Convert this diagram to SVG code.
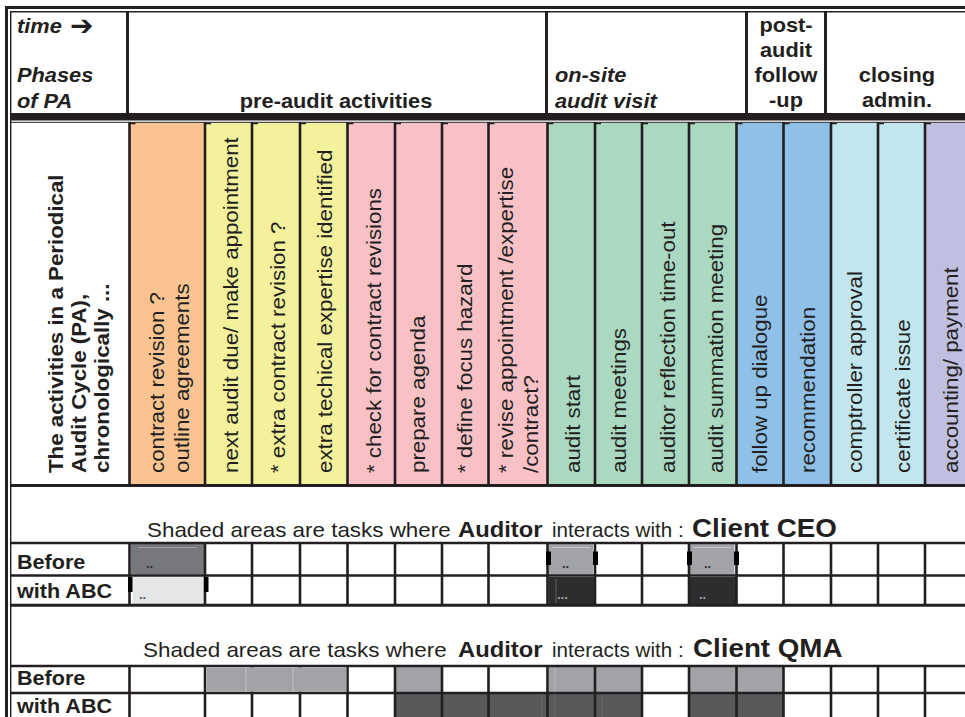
<svg xmlns="http://www.w3.org/2000/svg" width="965" height="717" viewBox="0 0 965 717">
  <style>
    .t { font-family: "Liberation Sans", Arial, Helvetica, sans-serif; fill: #231f20; }
    .i { font-style: italic; }
    .h { font-size: 20px; font-weight: bold; }
    .c { font-size: 20px; }
    .rl { font-size: 20px; font-weight: bold; }
    .s { font-size: 20px; }
    .sb { font-size: 22px; font-weight: bold; }
    .cb { font-size: 25px; font-weight: bold; }
    .arrow { font-family: "DejaVu Sans", sans-serif; font-size: 28px; font-weight: bold; fill: #231f20; }
    .dot { font-family: "Liberation Sans", Arial, sans-serif; font-size: 13px; font-weight: bold; }
    .ln { stroke: #231f20; fill: none; }
    .orange { fill: #f9c492; }
    .yellow { fill: #f4f19c; }
    .pink { fill: #f8c1c5; }
    .green { fill: #aad8c0; }
    .blue { fill: #8fc0e7; }
    .cyan { fill: #c2e6ee; }
    .lav { fill: #c0bfe0; }
    .g1 { fill: #a2a3a6; }
    .g2 { fill: #58595b; }
    .g3 { fill: #2d2d2f; }
    .g4 { fill: #77787b; }
    .g5 { fill: #e5e6e7; }
  </style>

  <rect x="0" y="0" width="965" height="717" fill="#ffffff"/>

  <!-- activity column fills -->
  <g id="column-fills">
    <rect class="orange" x="129.5" y="123" width="75.5" height="361"/>
    <rect class="yellow" x="205" y="123" width="47" height="361"/>
    <rect class="yellow" x="252" y="123" width="48" height="361"/>
    <rect class="yellow" x="300" y="123" width="47.5" height="361"/>
    <rect class="pink" x="347.5" y="123" width="47.5" height="361"/>
    <rect class="pink" x="395" y="123" width="47" height="361"/>
    <rect class="pink" x="442" y="123" width="46.5" height="361"/>
    <rect class="pink" x="488.5" y="123" width="59" height="361"/>
    <rect class="green" x="547.5" y="123" width="47.5" height="361"/>
    <rect class="green" x="595" y="123" width="47" height="361"/>
    <rect class="green" x="642" y="123" width="47" height="361"/>
    <rect class="green" x="689" y="123" width="47.5" height="361"/>
    <rect class="blue" x="736.5" y="123" width="47" height="361"/>
    <rect class="blue" x="783.5" y="123" width="47.5" height="361"/>
    <rect class="cyan" x="831" y="123" width="47" height="361"/>
    <rect class="cyan" x="878" y="123" width="47" height="361"/>
    <rect class="lav" x="925" y="123" width="40" height="361"/>
  </g>

  <!-- shaded interaction cells (under the grid) -->
  <g id="shading-under">
    <rect class="g4" x="131" y="544" width="73" height="30.5"/>
    <line x1="138" y1="547.5" x2="197" y2="547.5" stroke="#9c9da0" stroke-width="1"/>
    <rect class="g5" x="132.5" y="577" width="71.5" height="27"/>
    <rect class="g1" x="548.5" y="544" width="44.5" height="30.5"/>
    <line x1="552" y1="547.5" x2="590" y2="547.5" stroke="#c4c5c7" stroke-width="1"/>
    <rect class="g3" x="548.5" y="577" width="46.5" height="27"/>
    <line x1="556" y1="579" x2="556" y2="603" stroke="#6d6e70" stroke-width="0.8"/>
    <rect class="g1" x="689.5" y="544" width="45" height="30.5"/>
    <line x1="693" y1="547.5" x2="731" y2="547.5" stroke="#c4c5c7" stroke-width="1"/>
    <rect class="g3" x="689.5" y="577" width="47" height="27"/>

    <rect class="g1" x="396" y="667" width="45" height="25"/>
    <rect class="g1" x="549" y="667" width="93" height="25"/>
    <line x1="555" y1="667" x2="555" y2="692" stroke="#b9babc" stroke-width="0.8"/>
    <rect class="g1" x="690" y="667" width="93" height="25"/>
    <rect class="g2" x="396" y="694" width="246" height="23"/>
    <line x1="542" y1="694" x2="542" y2="717" stroke="#6e6f71" stroke-width="0.8"/>
    <line x1="555" y1="694" x2="555" y2="717" stroke="#6e6f71" stroke-width="0.8"/>
    <line x1="602" y1="694" x2="602" y2="717" stroke="#6e6f71" stroke-width="0.8"/>
    <rect class="g2" x="690" y="694" width="93" height="23"/>
  </g>

  <!-- grid, frame and rules -->
  <g id="connectors">
    <!-- outer double frame -->
    <line class="ln" x1="5" y1="7.5" x2="965" y2="7.5" stroke-width="3"/>
    <line class="ln" x1="10" y1="11.7" x2="965" y2="11.7" stroke-width="1.4"/>
    <line class="ln" x1="6.5" y1="6" x2="6.5" y2="717" stroke-width="3"/>
    <line class="ln" x1="10.7" y1="11" x2="10.7" y2="717" stroke-width="1.4"/>

    <!-- phase header dividers -->
    <line class="ln" x1="127.5" y1="11" x2="127.5" y2="114" stroke-width="3"/>
    <line class="ln" x1="546.5" y1="11" x2="546.5" y2="114" stroke-width="3"/>
    <line class="ln" x1="746.5" y1="11" x2="746.5" y2="114" stroke-width="3"/>
    <line class="ln" x1="825.5" y1="11" x2="825.5" y2="114" stroke-width="3"/>
    <rect x="10" y="113" width="955" height="7.5" fill="#231f20"/>
    <line class="ln" x1="10" y1="122.3" x2="965" y2="122.3" stroke-width="1"/>

    <!-- activity column dividers -->
    <path class="ln" stroke-width="2.6" d="M129.5 122V485 M205 122V485 M252 122V485 M300 122V485 M347.5 122V485 M395 122V485 M442 122V485 M488.5 122V485 M547.5 122V485 M595 122V485 M642 122V485 M689 122V485 M736.5 122V485 M783.5 122V485 M831 122V485 M878 122V485 M925 122V485"/>
    <path class="ln" stroke-width="1.5" d="M129.5 123.5h6 M205 123.5h6 M252 123.5h6 M300 123.5h6 M347.5 123.5h6 M395 123.5h6 M442 123.5h6 M488.5 123.5h6 M547.5 123.5h6 M595 123.5h6 M642 123.5h6 M689 123.5h6 M736.5 123.5h6 M783.5 123.5h6 M831 123.5h6 M878 123.5h6 M925 123.5h6"/>
    <line class="ln" x1="10" y1="485.5" x2="965" y2="485.5" stroke-width="3"/>

    <!-- Client CEO rows -->
    <line class="ln" x1="10" y1="543" x2="965" y2="543" stroke-width="2.5"/>
    <line class="ln" x1="10" y1="575.5" x2="965" y2="575.5" stroke-width="2.5"/>
    <line class="ln" x1="10" y1="605.3" x2="965" y2="605.3" stroke-width="3"/>
    <path class="ln" stroke-width="2.6" d="M129.5 543V605 M205 543V605 M252 543V605 M300 543V605 M347.5 543V605 M395 543V605 M442 543V605 M488.5 543V605 M547.5 543V605 M595 543V605 M642 543V605 M689 543V605 M736.5 543V605 M783.5 543V605 M831 543V605 M878 543V605 M925 543V605"/>

    <!-- Client QMA rows -->
    <line class="ln" x1="10" y1="666" x2="965" y2="666" stroke-width="2.5"/>
    <line class="ln" x1="10" y1="693" x2="965" y2="693" stroke-width="2.5"/>
    <path class="ln" stroke-width="2.6" d="M129.5 666V717 M205 666V717 M252 666V717 M300 666V717 M347.5 666V717 M395 666V717 M442 666V717 M488.5 666V717 M547.5 666V717 M595 666V717 M642 666V717 M689 666V717 M736.5 666V717 M783.5 666V717 M831 666V717 M878 666V717 M925 666V717"/>
  </g>

  <!-- shaded cells drawn over the grid -->
  <g id="shading-over">
    <rect class="g1" x="206.5" y="667.3" width="140" height="24.5"/>
    <line x1="246" y1="667.3" x2="246" y2="691.8" stroke="#c8c9cb" stroke-width="0.8"/>
    <line x1="293" y1="667.3" x2="293" y2="691.8" stroke="#c8c9cb" stroke-width="0.8"/>
    <!-- side marks on CEO cells -->
    <rect x="128" y="577" width="4.5" height="15" fill="#000"/>
    <rect x="204" y="577" width="4.5" height="15" fill="#000"/>
    <rect x="546" y="551.5" width="5" height="13.5" fill="#000"/>
    <rect x="593" y="551.5" width="5" height="13.5" fill="#000"/>
    <rect x="687" y="551.5" width="5" height="13.5" fill="#000"/>
    <rect x="734" y="551.5" width="5" height="13.5" fill="#000"/>
  </g>

  <!-- phase header -->
  <g id="phase-label">
    <text class="t h i" transform="translate(17,33) scale(1.09,1)">time</text>
    <text class="arrow" x="70" y="35">➔</text>
    <text class="t h i" transform="translate(17,82) scale(1.09,1)">Phases</text>
    <text class="t h i" transform="translate(17,108) scale(1.09,1)">of PA</text>
  </g>
  <g id="phase-pre-audit">
    <text class="t h" text-anchor="middle" transform="translate(336,108) scale(1.09,1)">pre-audit activities</text>
  </g>
  <g id="phase-on-site">
    <text class="t h i" transform="translate(555,82) scale(1.09,1)">on-site</text>
    <text class="t h i" transform="translate(555,108) scale(1.09,1)">audit visit</text>
  </g>
  <g id="phase-post-audit">
    <text class="t h" text-anchor="middle" transform="translate(786,32) scale(1.09,1)">post-</text>
    <text class="t h" text-anchor="middle" transform="translate(786,57) scale(1.09,1)">audit</text>
    <text class="t h" text-anchor="middle" transform="translate(786,82) scale(1.09,1)">follow</text>
    <text class="t h" text-anchor="middle" transform="translate(786,107) scale(1.09,1)">-up</text>
  </g>
  <g id="phase-closing">
    <text class="t h" text-anchor="middle" transform="translate(897,82) scale(1.09,1)">closing</text>
    <text class="t h" text-anchor="middle" transform="translate(897,107) scale(1.09,1)">admin.</text>
  </g>

  <!-- activity columns -->
  <g id="activities-label">
    <text class="t rl" transform="translate(62.5,473) rotate(-90) scale(1.115,1)">The activities in a Periodical</text>
    <text class="t rl" transform="translate(86,473) rotate(-90) scale(1.115,1)">Audit Cycle (PA),</text>
    <text class="t rl" transform="translate(109,473) rotate(-90) scale(1.115,1)">chronologically ...</text>
  </g>
  <g id="act-01"><text class="t c" transform="translate(164,473) rotate(-90) scale(1.115,1)">contract revision ?</text>
    <text class="t c" transform="translate(189,473) rotate(-90) scale(1.115,1)">outline agreements</text></g>
  <g id="act-02"><text class="t c" transform="translate(237.5,473) rotate(-90) scale(1.115,1)">next audit due/ make appointment</text></g>
  <g id="act-03"><text class="t c" transform="translate(284.5,473) rotate(-90) scale(1.115,1)">* extra contract revision ?</text></g>
  <g id="act-04"><text class="t c" transform="translate(331.5,473) rotate(-90) scale(1.115,1)">extra techical expertise identified</text></g>
  <g id="act-05"><text class="t c" transform="translate(380.5,473) rotate(-90) scale(1.115,1)">* check for contract revisions</text></g>
  <g id="act-06"><text class="t c" transform="translate(424.5,473) rotate(-90) scale(1.115,1)">prepare agenda</text></g>
  <g id="act-07"><text class="t c" transform="translate(471.5,473) rotate(-90) scale(1.115,1)">* define focus hazard</text></g>
  <g id="act-08"><text class="t c" transform="translate(512.5,473) rotate(-90) scale(1.115,1)">* revise appointment /expertise</text>
    <text class="t c" transform="translate(537.5,473) rotate(-90) scale(1.115,1)">/contract?</text></g>
  <g id="act-09"><text class="t c" transform="translate(579.5,473) rotate(-90) scale(1.115,1)">audit start</text></g>
  <g id="act-10"><text class="t c" transform="translate(625.5,473) rotate(-90) scale(1.115,1)">audit meetings</text></g>
  <g id="act-11"><text class="t c" transform="translate(674.5,473) rotate(-90) scale(1.115,1)">auditor reflection time-out</text></g>
  <g id="act-12"><text class="t c" transform="translate(722.5,473) rotate(-90) scale(1.115,1)">audit summation meeting</text></g>
  <g id="act-13"><text class="t c" transform="translate(766.5,473) rotate(-90) scale(1.115,1)">follow up dialogue</text></g>
  <g id="act-14"><text class="t c" transform="translate(814.5,473) rotate(-90) scale(1.115,1)">recommendation</text></g>
  <g id="act-15"><text class="t c" transform="translate(861.5,473) rotate(-90) scale(1.115,1)">comptroller approval</text></g>
  <g id="act-16"><text class="t c" transform="translate(909.5,473) rotate(-90) scale(1.115,1)">certificate issue</text></g>
  <g id="act-17"><text class="t c" transform="translate(957.5,473) rotate(-90) scale(1.115,1)">accounting/ payment</text></g>

  <!-- Client CEO interaction block -->
  <g id="ceo-caption">
    <text class="t s" transform="translate(147,537) scale(1.12,1)">Shaded areas are tasks where</text>
    <text class="t sb" transform="translate(458,537) scale(1.08,1)">Auditor</text>
    <text class="t s" transform="translate(552,537) scale(1.03,1)">interacts with :</text>
    <text class="t cb" transform="translate(692,537) scale(1.11,1)">Client CEO</text>
  </g>
  <g id="ceo-before"><text class="t rl" transform="translate(17,569) scale(1.08,1)">Before</text></g>
  <g id="ceo-abc"><text class="t rl" transform="translate(17,598) scale(1.08,1)">with ABC</text></g>
  <g id="ceo-marks">
    <text class="dot" x="146" y="568" fill="#2d2d2f">..</text>
    <text class="dot" x="139" y="599" fill="#58595b">..</text>
    <text class="dot" x="562" y="568" fill="#2d2d2f">..</text>
    <text class="dot" x="557" y="599" fill="#a7a8aa">...</text>
    <text class="dot" x="704" y="568" fill="#2d2d2f">..</text>
    <text class="dot" x="699" y="599" fill="#a7a8aa">..</text>
  </g>

  <!-- Client QMA interaction block -->
  <g id="qma-caption">
    <text class="t s" transform="translate(143,657) scale(1.12,1)">Shaded areas are tasks where</text>
    <text class="t sb" transform="translate(458,657) scale(1.08,1)">Auditor</text>
    <text class="t s" transform="translate(552,657) scale(1.03,1)">interacts with :</text>
    <text class="t cb" transform="translate(693,657) scale(1.11,1)">Client QMA</text>
  </g>
  <g id="qma-before"><text class="t rl" transform="translate(17,685) scale(1.08,1)">Before</text></g>
  <g id="qma-abc"><text class="t rl" transform="translate(17,713) scale(1.08,1)">with ABC</text></g>
</svg>
